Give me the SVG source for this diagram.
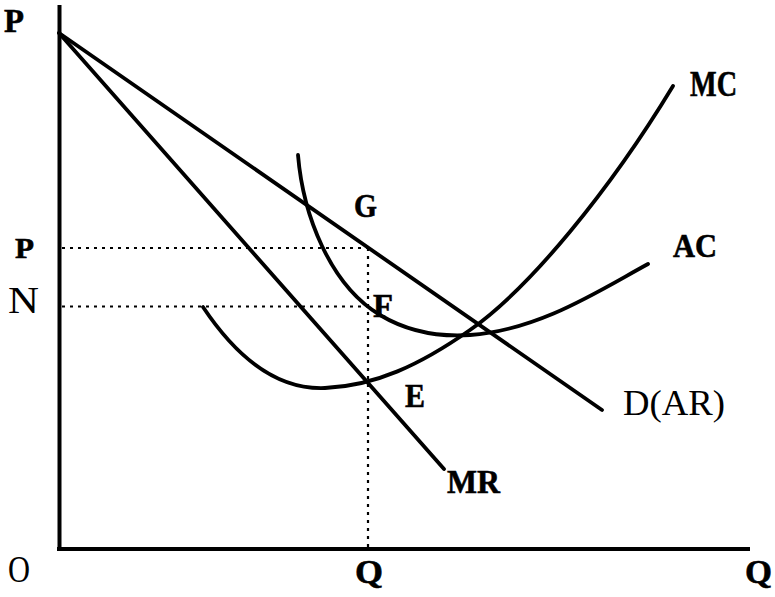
<svg xmlns="http://www.w3.org/2000/svg" width="775" height="597" viewBox="0 0 775 597">
<style>
.ln{fill:none;stroke:#000;stroke-width:3.8;stroke-linecap:round;stroke-linejoin:round}
.ax{fill:none;stroke:#000;stroke-width:4}
.dot{fill:none;stroke:#000;stroke-width:2.2;stroke-dasharray:3 5}
text{font-family:"Liberation Serif","Times New Roman",serif;fill:#000}
.b{font-weight:bold;stroke:#000;stroke-width:0.6}
</style>
<rect width="775" height="597" fill="#fff"/>
<g id="axes">
<line class="ax" x1="59.5" y1="5" x2="59.5" y2="551"/>
<line class="ax" x1="57" y1="549" x2="750" y2="549"/>
<text class="b" x="4" y="32" font-size="33" textLength="20" lengthAdjust="spacingAndGlyphs">P</text>
<text x="8" y="582" font-size="37" textLength="22" lengthAdjust="spacingAndGlyphs">O</text>
<text class="b" x="355" y="583" font-size="34" textLength="28" lengthAdjust="spacingAndGlyphs">Q</text>
<text class="b" x="745" y="583" font-size="34" textLength="27" lengthAdjust="spacingAndGlyphs">Q</text>
<text class="b" x="15" y="258" font-size="30" textLength="19" lengthAdjust="spacingAndGlyphs">P</text>
<text x="8" y="313" font-size="37" textLength="31" lengthAdjust="spacingAndGlyphs">N</text>
</g>
<g id="guides">
<line class="dot" x1="62" y1="248" x2="368" y2="248"/>
<line class="dot" x1="62" y1="306.5" x2="368" y2="306.5"/>
<line class="dot" x1="368" y1="248" x2="368" y2="547"/>
</g>
<g id="D">
<line class="ln" x1="59" y1="33" x2="602" y2="410"/>
<text x="623" y="415" font-size="35" textLength="102" lengthAdjust="spacingAndGlyphs">D(AR)</text>
</g>
<g id="MR">
<line class="ln" x1="59" y1="33" x2="444" y2="469"/>
<text class="b" x="447" y="493" font-size="34" textLength="53" lengthAdjust="spacingAndGlyphs">MR</text>
</g>
<g id="MC">
<path class="ln" d="M203,307 C235,355 275,390 325,388 C375,386 420,365 470,330 C530,288 610,190 673,86"/>
<text class="b" x="690" y="96" font-size="35" textLength="47" lengthAdjust="spacingAndGlyphs">MC</text>
</g>
<g id="AC">
<path class="ln" d="M298,155 C303,215 330,285 380,315 C410,333 440,337 470,335 C540,330 600,290 648,264"/>
<text class="b" x="673" y="257" font-size="34" textLength="44" lengthAdjust="spacingAndGlyphs">AC</text>
</g>
<g id="points">
<text class="b" x="354" y="217" font-size="34" textLength="23" lengthAdjust="spacingAndGlyphs">G</text>
<text class="b" x="373" y="317" font-size="34" textLength="20" lengthAdjust="spacingAndGlyphs">F</text>
<text class="b" x="405" y="407" font-size="34" textLength="20" lengthAdjust="spacingAndGlyphs">E</text>
</g>
</svg>
